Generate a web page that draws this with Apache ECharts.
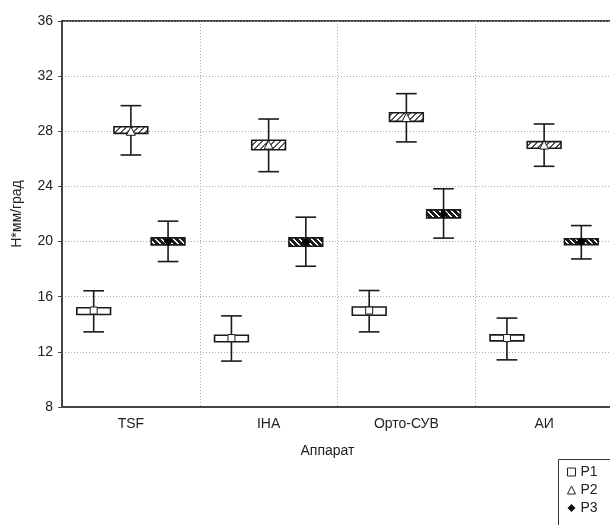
<!DOCTYPE html>
<html>
<head>
<meta charset="utf-8">
<script src="https://cdn.jsdelivr.net/npm/echarts@6/dist/echarts.min.js"></script>
<style>html,body{margin:0;padding:0;background:#fff}#c{width:610px;height:525px}</style>
</head>
<body>
<div id="c"></div>
<script>
// ---- data ----
const categories = ['TSF', 'IHA', 'Орто-СУВ', 'АИ'];
const yTicks = [8, 12, 16, 20, 24, 28, 32, 36];
// P1
const p1Mean = [15, 13, 15, 13];
const p1BoxLow = [14.71, 12.73, 14.65, 12.80];
const p1BoxHigh = [15.20, 13.21, 15.25, 13.23];
const p1WhiskLow = [13.45, 11.33, 13.45, 11.42];
const p1WhiskHigh = [16.43, 14.61, 16.45, 14.45];
// P2
const p2Mean = [28, 27, 29, 27];
const p2BoxLow = [27.85, 26.66, 28.72, 26.77];
const p2BoxHigh = [28.33, 27.35, 29.35, 27.25];
const p2WhiskLow = [26.28, 25.07, 27.23, 25.46];
const p2WhiskHigh = [29.86, 28.89, 30.73, 28.53];
// P3
const p3Mean = [20, 19.95, 22, 20];
const p3BoxLow = [19.76, 19.66, 21.72, 19.78];
const p3BoxHigh = [20.27, 20.27, 22.30, 20.20];
const p3WhiskLow = [18.55, 18.21, 20.25, 18.74];
const p3WhiskHigh = [21.48, 21.77, 23.83, 21.16];
const seriesNames = ['P1', 'P2', 'P3'];

function rows(mean, bl, bh, wl, wh) {
  return categories.map((c, i) => [i, wl[i], bl[i], mean[i], bh[i], wh[i]]);
}

function makePattern(bg, fg, dir) {
  const n = 6;
  const cv = document.createElement('canvas');
  cv.width = n; cv.height = n;
  const ctx = cv.getContext('2d');
  ctx.fillStyle = bg; ctx.fillRect(0, 0, n, n);
  ctx.fillStyle = fg;
  for (let x = 0; x < n; x++) for (let y = 0; y < n; y++) {
    const k = dir === '/' ? (x + y) % n : ((x - y) % n + n) % n;
    if (k < 2) ctx.fillRect(x, y, 1, 1);
  }
  return { image: cv, repeat: 'repeat' };
}
const fills = ['#ffffff', makePattern('#ffffff', '#555555', '/'), makePattern('#1c1c1c', '#ffffff', '\\')];
const markers = ['square', 'triangle', 'diamond'];

function makeRender(si) {
  return function (params, api) {
    const ci = api.value(0);
    const band = api.size([1, 0])[0];
    const off = (si - 1) * band * 0.27;
    const cx = api.coord([ci, api.value(3)])[0] + off;
    const y = v => api.coord([ci, v])[1];
    const yWl = y(api.value(1)), yBl = y(api.value(2)), yM = y(api.value(3)),
          yBh = y(api.value(4)), yWh = y(api.value(5));
    const boxW = band * 0.245, capW = band * 0.15;
    const stroke = { stroke: '#1a1a1a', lineWidth: 1.6 };
    const ch = [
      { type: 'line', shape: { x1: cx, y1: yWh, x2: cx, y2: yWl }, style: stroke },
      { type: 'line', shape: { x1: cx - capW / 2, y1: yWh, x2: cx + capW / 2, y2: yWh }, style: stroke },
      { type: 'line', shape: { x1: cx - capW / 2, y1: yWl, x2: cx + capW / 2, y2: yWl }, style: stroke },
      { type: 'rect', shape: { x: cx - boxW / 2, y: yBh, width: boxW, height: yBl - yBh },
        style: { fill: fills[si], stroke: '#1a1a1a', lineWidth: 1.6 } }
    ];
    const s = 3.5;
    if (markers[si] === 'square') {
      ch.push({ type: 'rect', shape: { x: cx - s, y: yM - s, width: 2 * s, height: 2 * s },
        style: { fill: '#fff', stroke: '#1a1a1a', lineWidth: 1 } });
    } else if (markers[si] === 'triangle') {
      ch.push({ type: 'polygon', shape: { points: [[cx, yM - 4.5], [cx + 4.5, yM + 4], [cx - 4.5, yM + 4]] },
        style: { fill: '#fff', stroke: '#1a1a1a', lineWidth: 1 } });
    } else {
      ch.push({ type: 'polygon', shape: { points: [[cx, yM - 4.5], [cx + 4.5, yM], [cx, yM + 4.5], [cx - 4.5, yM]] },
        style: { fill: '#000' } });
    }
    return { type: 'group', children: ch };
  };
}

const allData = [
  rows(p1Mean, p1BoxLow, p1BoxHigh, p1WhiskLow, p1WhiskHigh),
  rows(p2Mean, p2BoxLow, p2BoxHigh, p2WhiskLow, p2WhiskHigh),
  rows(p3Mean, p3BoxLow, p3BoxHigh, p3WhiskLow, p3WhiskHigh)
];

const font = 'Arial, "Liberation Sans", sans-serif';
const chart = echarts.init(document.getElementById('c'), null, { renderer: 'canvas' });
chart.setOption({
  animation: false,
  backgroundColor: '#fff',
  textStyle: { fontFamily: font },
  grid: { left: 62, top: 21, width: 551, height: 386, show: true, borderColor: '#444', borderWidth: 2,
    containLabel: false, outerBoundsMode: 'none' },
  xAxis: {
    type: 'category', data: categories, boundaryGap: true,
    name: 'Аппарат', nameLocation: 'middle', nameGap: 37,
    nameTextStyle: { fontSize: 14, color: '#222', fontFamily: font, padding: [0, 20, 0, 0] },
    axisLine: { lineStyle: { color: '#444', width: 2 } },
    axisTick: { show: false },
    axisLabel: { fontSize: 14, color: '#222', margin: 10, fontFamily: font },
    splitLine: { show: true, lineStyle: { color: '#aaa', type: [1, 2], width: 1 } }
  },
  yAxis: {
    type: 'value', min: yTicks[0], max: yTicks[yTicks.length - 1], interval: 4,
    name: 'Н*мм/град', nameLocation: 'middle', nameGap: 38,
    nameTextStyle: { fontSize: 14, color: '#222', fontFamily: font },
    axisLine: { show: true, lineStyle: { color: '#444', width: 2 } },
    axisTick: { show: true, length: 4, lineStyle: { color: '#444' } },
    axisLabel: { fontSize: 14, color: '#222', margin: 9, fontFamily: font },
    splitLine: { show: true, lineStyle: { color: '#aaa', type: [1, 2], width: 1 } }
  },
  legend: {
    orient: 'vertical', left: 562, top: 460, itemGap: 4, itemWidth: 8, itemHeight: 8,
    textStyle: { fontSize: 14, color: '#222', fontFamily: font },
    data: [
      { name: 'P1', icon: 'rect', itemStyle: { color: '#fff', borderColor: '#222', borderWidth: 1 } },
      { name: 'P2', icon: 'triangle', itemStyle: { color: '#fff', borderColor: '#222', borderWidth: 1 } },
      { name: 'P3', icon: 'diamond', itemStyle: { color: '#111' } }
    ]
  },
  graphic: [{ type: 'rect', left: 556, top: 457, shape: { width: 80, height: 80 },
    style: { fill: 'none', stroke: '#333', lineWidth: 1 }, silent: true }],
  series: seriesNames.map((n, si) => ({
    name: n, type: 'custom', renderItem: makeRender(si),
    itemStyle: { color: si === 2 ? '#111' : '#fff' },
    encode: { x: 0, y: [1, 2, 3, 4, 5] },
    data: allData[si], z: 10, clip: false
  }))
});
</script>
</body>
</html>
